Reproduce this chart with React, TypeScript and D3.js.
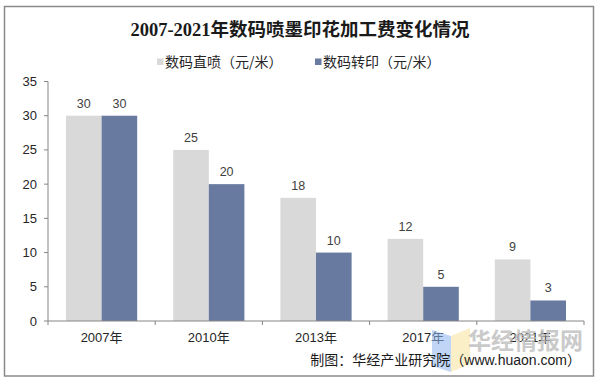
import { scaleBand, scaleLinear } from 'd3';

const categories = ['2007年', '2010年', '2013年', '2017年', '2021年'];
const directValues = [30, 25, 18, 12, 9];
const transferValues = [30, 20, 10, 5, 3];
const seriesNames = ['数码直喷（元/米）', '数码转印（元/米）'];
const yTicks = [0, 5, 10, 15, 20, 25, 30, 35];

const width = 601;
const height = 386;
const plot = { left: 48, right: 584, top: 81.5, bottom: 321 };
const colors = ['#d9d9d9', '#687a9f'];
const cjk = '"Noto Sans CJK SC", "Liberation Sans", sans-serif';
const mixed = '"Liberation Sans", "Noto Sans CJK SC", sans-serif';

export default function App() {
  const series = [directValues, transferValues];

  const xScale = scaleBand<string>()
    .domain(categories)
    .range([plot.left, plot.right]);

  const inner = scaleBand<number>()
    .domain([0, 1])
    .range([18, xScale.bandwidth() - 18]);

  const yScale = scaleLinear()
    .domain([0, 35])
    .range([plot.bottom, plot.top]);

  const boundaries = [...categories.map(c => xScale(c) ?? 0), plot.right];

  return (
    <svg
      width={width}
      height={height}
      viewBox={`0 0 ${width} ${height}`}
      style={{ position: 'absolute', left: 0, top: 0, background: '#fff' }}
    >
      <rect x={4.5} y={6.5} width={589} height={369.5} fill="#fff" stroke="#8a8a8a" strokeWidth={1.5} />

      <text
        x={300}
        y={36}
        textAnchor="middle"
        fontSize={18.5}
        fontWeight="bold"
        fill="#1a1a1a"
        fontFamily={'"Liberation Serif", "Noto Sans CJK SC", serif'}
      >
        2007-2021年数码喷墨印花加工费变化情况
      </text>

      {seriesNames.map((name, i) => {
        const lx = i === 0 ? 157 : 315;
        return (
          <g key={name}>
            <rect x={lx} y={58.5} width={6.5} height={6.5} fill={colors[i]} />
            <text x={lx + 8} y={67} fontSize={14} fill="#262626" fontFamily={cjk}>{name}</text>
          </g>
        );
      })}

      {/* y axis */}
      <line x1={plot.left} x2={plot.left} y1={plot.top} y2={plot.bottom} stroke="#868686" />
      {yTicks.map(t => (
        <g key={t}>
          <line x1={plot.left - 4} x2={plot.left} y1={yScale(t)} y2={yScale(t)} stroke="#868686" />
          <text
            x={37}
            y={yScale(t) + 4.5}
            textAnchor="end"
            fontSize={13}
            fill="#262626"
            fontFamily='"Liberation Sans", Arial, sans-serif'
          >
            {t}
          </text>
        </g>
      ))}

      {/* bars */}
      {categories.map((cat, ci) => (
        <g key={cat}>
          {series.map((vals, si) => {
            const x = (xScale(cat) ?? 0) + (inner(si) ?? 0);
            const y = yScale(vals[ci]);
            return (
              <g key={si}>
                <rect x={x} y={y} width={inner.bandwidth()} height={plot.bottom - y} fill={colors[si]} />
                <text
                  x={x + inner.bandwidth() / 2}
                  y={y - 8}
                  textAnchor="middle"
                  fontSize={12.5}
                  fill="#404040"
                  fontFamily='"Liberation Sans", Arial, sans-serif'
                >
                  {vals[ci]}
                </text>
              </g>
            );
          })}
        </g>
      ))}

      {/* x axis */}
      <line x1={plot.left} x2={plot.right} y1={plot.bottom} y2={plot.bottom} stroke="#868686" />
      {boundaries.map((bx, i) => (
        <line key={i} x1={bx} x2={bx} y1={plot.bottom} y2={plot.bottom + 4} stroke="#868686" />
      ))}
      {categories.map(cat => (
        <text
          key={cat}
          x={(xScale(cat) ?? 0) + xScale.bandwidth() / 2}
          y={342}
          textAnchor="middle"
          fontSize={13}
          fill="#262626"
          fontFamily={mixed}
        >
          {cat}
        </text>
      ))}

      {/* watermark */}
      <g opacity={0.55}>
        <path d="M432,330 L451,336 L451,372 L432,366 Z" fill="#8fb6ef" />
        <path d="M451,336 L470,328 L470,364 L451,372 Z" fill="#f6e39a" />
      </g>
      <text
        x={583}
        y={349}
        textAnchor="end"
        fontSize={23}
        fontWeight="bold"
        fill="#bdbdbd"
        opacity={0.8}
        fontFamily={cjk}
      >
        华经情报网
      </text>

      <text
        x={581}
        y={365}
        textAnchor="end"
        fontSize={14}
        fill="#1a1a1a"
        fontFamily={mixed}
      >
        制图：华经产业研究院（www.huaon.com）
      </text>
    </svg>
  );
}
